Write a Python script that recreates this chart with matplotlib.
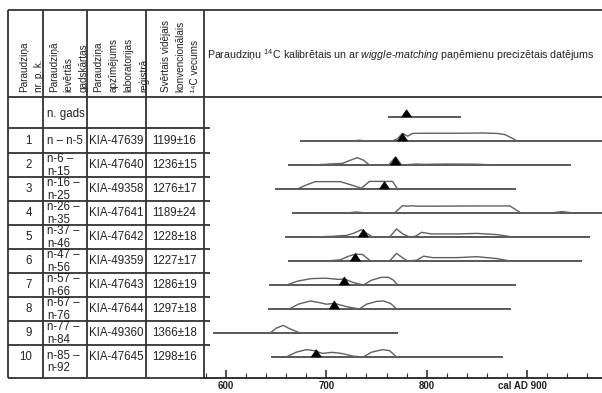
import matplotlib
matplotlib.use("Agg")
import matplotlib.pyplot as plt
from matplotlib.transforms import ScaledTranslation

plt.rcParams['font.family'] = ['Liberation Sans', 'DejaVu Sans']
plt.rcParams['mathtext.fontset'] = 'custom'
plt.rcParams['mathtext.rm'] = 'Liberation Sans'
plt.rcParams['mathtext.it'] = 'Liberation Sans:italic'
plt.rcParams['mathtext.bf'] = 'Liberation Sans:bold'

# ---------------- table data ----------------
header_cols = ["Paraudziņa\nnr. p. k.",
               "Paraudziņā\nievērtās\ngadskārtas",
               "Paraudziņa\napzīmējums\nlaboratorijas\nreģistrā",
               "Svērtais vidējais\nkonvencionālais\n¹⁴C vecums"]
plot_title = "Paraudziņu $^{14}$C kalibrētais un ar $\\it{wiggle}$-$\\it{matching}$ paņēmienu precizētais datējums"
sample_no = ["", "1", "2", "3", "4", "5", "6", "7", "8", "9", "10"]
rings = ["n. gads", "n – n-5", "n-6 –\nn-15", "n-16 –\nn-25", "n-26 –\nn-35",
         "n-37 –\nn-46", "n-47 –\nn-56", "n-57 –\nn-66", "n-67 –\nn-76",
         "n-77 –\nn-84", "n-85 –\nn-92"]
lab_ids = ["", "KIA-47639", "KIA-47640", "KIA-49358", "KIA-47641", "KIA-47642",
           "KIA-49359", "KIA-47643", "KIA-47644", "KIA-49360", "KIA-47645"]
ages = ["", "1199±16", "1236±15", "1276±17", "1189±24", "1228±18",
        "1227±17", "1286±19", "1297±18", "1366±18", "1298±16"]

# ---------------- plot data (cal AD) ----------------
range_start = [761, 674, 662, 649, 666, 659, 662, 643, 642, 587, 645]
range_end = [834, 985, 944, 889, 985, 963, 955, 889, 884, 771, 876]
wm_peak = [780, 776, 769, 758, None, 737, 729, 718, 708, None, 690]
wm_height = [0.9, 0.95, 1.0, 0.92, None, 0.95, 0.95, 1.0, 1.0, None, 0.92]

cal_yr_1 = [726, 733, 740, 766, 771, 776, 781, 786, 800, 830, 856, 870, 878, 886, 890]
cal_p_1 = [0, 0.1, 0, 0, 0.3, 0.95, 0.6, 0.95, 0.97, 0.97, 1.0, 0.95, 0.8, 0.3, 0]
cal_yr_2 = [687, 700, 716, 724, 731, 737, 743, 762, 769, 775, 790, 795, 820, 850, 866]
cal_p_2 = [0, 0.1, 0.2, 0.6, 0.92, 0.6, 0, 0, 1.0, 0, 0.12, 0.08, 0.12, 0.1, 0]
cal_yr_3 = [671, 680, 689, 700, 714, 725, 735, 743, 750, 760, 766, 771]
cal_p_3 = [0, 0.5, 0.92, 0.92, 0.92, 0.5, 0.1, 0.95, 0.95, 0.95, 0.95, 0]
cal_yr_4 = [720, 730, 740, 768, 776, 780, 785, 790, 800, 850, 883, 894, 923, 935, 946]
cal_p_4 = [0, 0.12, 0, 0, 0.92, 0.85, 0.9, 0.85, 0.85, 0.88, 0.88, 0, 0, 0.18, 0]
cal_yr_5 = [687, 705, 720, 728, 735, 741, 746, 763, 770, 776, 783, 789, 795, 805, 830, 850, 870, 886]
cal_p_5 = [0, 0.08, 0.2, 0.5, 0.92, 0.4, 0, 0, 1.0, 0.4, 0, 0.1, 0.58, 0.38, 0.38, 0.45, 0.3, 0]
cal_yr_6 = [700, 714, 722, 729, 736, 744, 763, 770, 776, 781, 790, 797, 806, 830, 850, 870, 883]
cal_p_6 = [0, 0.15, 0.6, 0.84, 0.82, 0, 0, 0.95, 0.4, 0, 0.1, 0.6, 0.42, 0.42, 0.54, 0.3, 0]
cal_yr_7 = [660, 672, 685, 700, 712, 718, 727, 737, 745, 755, 762, 767, 771]
cal_p_7 = [0, 0.5, 0.8, 0.85, 0.7, 0.75, 0.3, 0, 0.6, 0.96, 0.96, 0.6, 0]
cal_yr_8 = [663, 672, 684, 693, 700, 708, 720, 733, 740, 750, 757, 764, 770]
cal_p_8 = [0, 0.6, 1.0, 0.8, 0.6, 0.7, 0.3, 0, 0.6, 0.95, 1.0, 0.7, 0]
cal_yr_9 = [644, 650, 657, 664, 674]
cal_p_9 = [0, 0.6, 0.95, 0.5, 0]
cal_yr_10 = [660, 670, 680, 688, 696, 706, 715, 727, 737, 745, 756, 763, 770]
cal_p_10 = [0, 0.6, 0.92, 0.8, 0.45, 0.58, 0.45, 0.1, 0, 0.6, 0.92, 0.8, 0]

cal_years = [None, cal_yr_1, cal_yr_2, cal_yr_3, cal_yr_4, cal_yr_5,
             cal_yr_6, cal_yr_7, cal_yr_8, cal_yr_9, cal_yr_10]
cal_probs = [None, cal_p_1, cal_p_2, cal_p_3, cal_p_4, cal_p_5,
             cal_p_6, cal_p_7, cal_p_8, cal_p_9, cal_p_10]

axis_ticks = [600, 700, 800, 900]
axis_labels = ["600", "700", "800", "cal AD 900"]

# ---------------- figure ----------------
W, H = 602, 393
fig = plt.figure(figsize=(W / 100, H / 100), dpi=100)
fig.patch.set_facecolor("white")

ov = fig.add_axes([0, 0, 1, 1])
ov.set_xlim(0, W)
ov.set_ylim(H, 0)
ov.axis("off")

LC = "#333333"
LW = 1.3
col_x = [8, 43, 87, 146, 204]
top_y, head_y, bot_y = 10, 97, 378
row_lines = [128, 153, 177, 201, 225, 249, 273, 297, 321, 345]

ov.plot([8, W], [top_y, top_y], color=LC, lw=LW, solid_capstyle="butt")
ov.plot([8, W], [head_y, head_y], color=LC, lw=LW, solid_capstyle="butt")
for y in row_lines:
    ov.plot([8, 210], [y, y], color=LC, lw=LW, solid_capstyle="butt")
ov.plot([8, 204], [bot_y, bot_y], color=LC, lw=LW, solid_capstyle="butt")
for x in col_x:
    ov.plot([x, x], [top_y, bot_y], color=LC, lw=LW, solid_capstyle="butt")

TC = "#222222"
head_x = [32, 68.5, 121.5, 180.5]
for x, t in zip(head_x, header_cols):
    ov.text(x, 92, t, rotation=90, ha="center", va="bottom", fontsize=7.2,
            multialignment="left", linespacing=1.6, color=TC)
ov.text(207, 55, plot_title, ha="left", va="center", fontsize=7.65, color=TC)

bounds = [head_y] + row_lines + [bot_y]
FS = 8.3
for i in range(len(rings)):
    top, bot = bounds[i], bounds[i + 1]
    yc = (top + bot) / 2
    ysingle = yc if i < 10 else top + 12
    if sample_no[i]:
        ov.text(32, ysingle, sample_no[i], ha="right", va="center", fontsize=FS, color=TC)
    ov.text(47, yc + (2 if i == 0 else 0.5), rings[i], ha="left", va="center", fontsize=FS,
            color=TC, linespacing=1.07)
    if lab_ids[i]:
        ov.text(89, ysingle, lab_ids[i], ha="left", va="center", fontsize=FS, color=TC)
    if ages[i]:
        ov.text(152, ysingle, ages[i], ha="left", va="center", fontsize=FS, color=TC)

# ---------------- plot panel ----------------
x0_year, px_per_year = 600, 301 / 300
left_year = x0_year + (204 - 226) / px_per_year
right_year = x0_year + (W - 226) / px_per_year
base_px = 117
row_px = 24
ax = fig.add_axes([204 / W, (H - bot_y) / H, (W - 204) / W, (bot_y - head_y) / H])
ax.set_facecolor("none")
ax.set_xlim(left_year, right_year)
ax.set_ylim(-(bot_y - base_px) / row_px, (base_px - head_y) / row_px)

scale = 8 / row_px
for i in range(len(rings)):
    y0 = -i
    ax.plot([range_start[i], range_end[i]], [y0, y0], color="#3c3c3c", lw=1.2,
            solid_capstyle="butt", zorder=2)
    if cal_years[i] is not None:
        ax.plot(cal_years[i], [y0 + p * scale for p in cal_probs[i]],
                color="#606060", lw=1.0, zorder=3)
    if wm_peak[i] is not None:
        c, h = wm_peak[i], wm_height[i] * scale
        ax.fill([c - 5, c, c + 5], [y0, y0 + h, y0], color="black", zorder=4, lw=0.5)

for s in ["top", "right", "left"]:
    ax.spines[s].set_visible(False)
ax.spines["bottom"].set_color("#222222")
ax.spines["bottom"].set_linewidth(1.3)
ax.set_yticks([])
ax.set_xticks(axis_ticks)
ax.set_xticklabels(axis_labels, fontsize=7, fontweight="bold", color=TC)
ax.set_xticks(list(range(580, 975, 20)), minor=True)
ax.tick_params(axis="x", which="major", direction="in", length=6, width=1.1,
               color="#222222", pad=2.5)
ax.tick_params(axis="x", which="minor", direction="in", length=3.5, width=0.8,
               color="#333333")
lab = ax.get_xticklabels()[-1]
lab.set_transform(lab.get_transform() + ScaledTranslation(-5 / 100, 0, fig.dpi_scale_trans))

fig.savefig("out.png", dpi=100)
